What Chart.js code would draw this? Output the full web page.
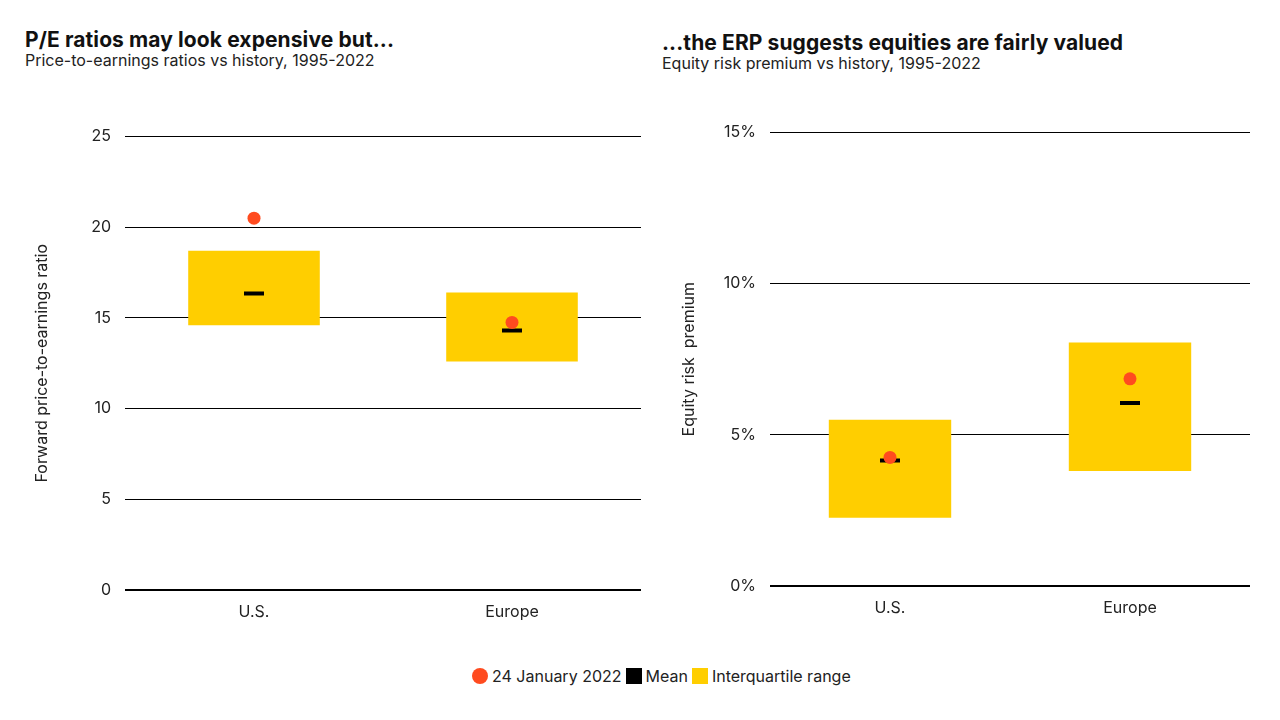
<!DOCTYPE html>
<html>
<head>
<meta charset="utf-8">
<script src="https://cdn.jsdelivr.net/npm/chart.js@4.4.1/dist/chart.umd.min.js"></script>
<style>
  body { margin: 0; width: 1280px; height: 720px; background: #fff; font-family: Inter, "Noto Sans", sans-serif; color: #111; position: relative; overflow: hidden; }
  .title { position: absolute; font-weight: 700; font-size: 21px; letter-spacing: 0.1px; }
  .sub { position: absolute; font-size: 16px; color: #222; }
  .box { position: absolute; }
  #legend { position: absolute; top: 666px; left: 472px; font-size: 16px; color: #222; display: flex; align-items: center; white-space: nowrap; }
  #legend span.sw { display: inline-block; width: 16px; height: 16px; margin-right: 4px; }
  #legend span.dot { border-radius: 50%; }
  #legend span.lab { margin-right: 4px; }
</style>
</head>
<body>
<div class="title" style="left:25px; top:27px;">P/E ratios may look expensive but...</div>
<div class="sub" style="left:25px; top:50px;">Price-to-earnings ratios vs history, 1995-2022</div>
<div class="title" style="left:662px; top:30px;">...the ERP suggests equities are fairly valued</div>
<div class="sub" style="left:662px; top:53px;">Equity risk premium vs history, 1995-2022</div>

<div class="box" style="left:0; top:113px; width:655px; height:523px;"><canvas id="peChart"></canvas></div>
<div class="box" style="left:640px; top:109px; width:640px; height:528px;"><canvas id="erpChart"></canvas></div>

<div id="legend">
  <span class="sw dot" style="background:#FF4B1F"></span><span class="lab">24 January 2022</span>
  <span class="sw" style="background:#000"></span><span class="lab">Mean</span>
  <span class="sw" style="background:#FFCE00"></span><span class="lab">Interquartile range</span>
</div>

<script>
const regions = ['U.S.', 'Europe'];

// P/E ratios
const peLow = [14.6, 12.6];
const peHigh = [18.7, 16.4];
const peMean = [16.35, 14.3];
const peNow = [20.5, 14.75];

// Equity risk premium (%)
const erpLow = [2.25, 3.8];
const erpHigh = [5.5, 8.05];
const erpMean = [4.15, 6.05];
const erpNow = [4.25, 6.85];

const YELLOW = '#FFCE00';
const RED = '#FF4B1F';

function makeChart(id, low, high, mean, now, opts) {
    const ctx = document.getElementById(id).getContext('2d');
    return new Chart(ctx, {
        data: {
            labels: regions,
            datasets: [{
                type: 'line',
                label: '24 January 2022',
                data: now,
                showLine: false,
                pointStyle: 'circle',
                pointRadius: 6.5,
                pointBackgroundColor: RED,
                pointBorderWidth: 0,
                order: 0
            }, {
                type: 'line',
                label: 'Mean',
                data: mean,
                showLine: false,
                pointStyle: 'line',
                pointRadius: 10,
                pointBorderColor: '#000',
                pointBorderWidth: 4,
                order: 1
            }, {
                type: 'bar',
                label: 'Interquartile range',
                data: low.map((v, i) => [v, high[i]]),
                backgroundColor: YELLOW,
                borderWidth: 0,
                barPercentage: 0.51,
                categoryPercentage: 1,
                order: 2
            }]
        },
        options: {
            responsive: true,
            maintainAspectRatio: false,
            animation: false,
            layout: { padding: opts.padding },
            plugins: {
                legend: { display: false },
                tooltip: { enabled: false }
            },
            scales: {
                x: {
                    grid: { display: false },
                    border: { display: false },
                    ticks: { color: '#222', font: { family: 'Inter', size: 16 }, padding: 5 }
                },
                y: {
                    min: 0,
                    max: opts.max,
                    afterFit: function (scale) { scale.width = opts.axisWidth; },
                    ticks: {
                        stepSize: 5,
                        color: '#222',
                        padding: 14,
                        font: { family: 'Inter', size: 16 },
                        callback: function (value) { return value + opts.suffix; }
                    },
                    grid: {
                        color: '#000',
                        drawTicks: false,
                        lineWidth: function (c) { return c.tick && c.tick.value === 0 ? 2 : 1; }
                    },
                    border: { display: false },
                    title: {
                        display: true,
                        text: opts.yTitle,
                        color: '#222',
                        font: { family: 'Inter', size: 16 },
                        padding: { top: opts.titlePad, bottom: 0 }
                    }
                }
            }
        }
    });
}

makeChart('peChart', peLow, peHigh, peMean, peNow, {
    max: 25, suffix: '', yTitle: 'Forward price-to-earnings ratio',
    axisWidth: 125, titlePad: 33,
    padding: { top: 20, right: 5, bottom: 9, left: 0 }
});

makeChart('erpChart', erpLow, erpHigh, erpMean, erpNow, {
    max: 15, suffix: '%', yTitle: 'Equity risk  premium',
    axisWidth: 130, titlePad: 40,
    padding: { top: 12, right: 30, bottom: 14, left: 0 }
});
</script>
</body>
</html>
